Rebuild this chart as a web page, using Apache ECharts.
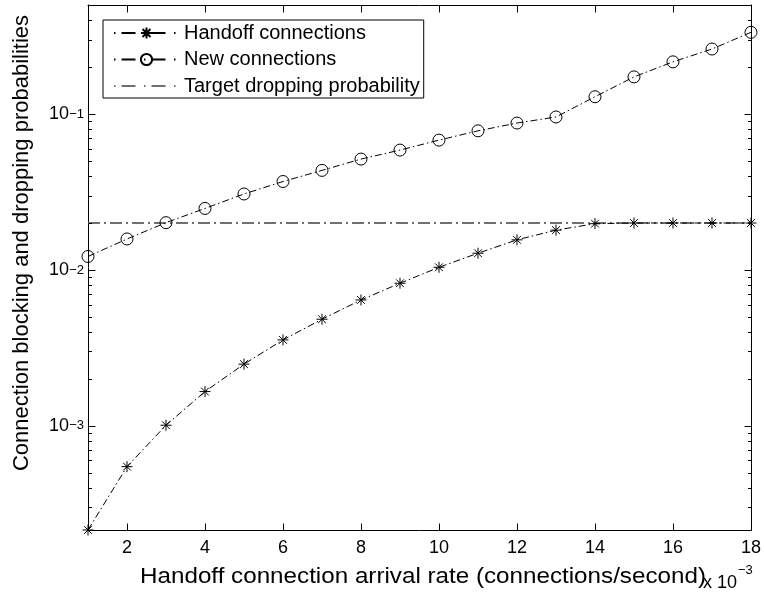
<!DOCTYPE html>
<html>
<head>
<meta charset="utf-8">
<script src="https://cdn.jsdelivr.net/npm/echarts@6/dist/echarts.min.js"></script>
<style>
  html, body { margin: 0; padding: 0; background: #fff; }
  #chart { width: 764px; height: 593px; }
</style>
</head>
<body>
<div id="chart"></div>
<script>
// Handoff connection arrival rate (x 10^-3 connections/second)
const arrivalRate = [1, 2, 3, 4, 5, 6, 7, 8, 9, 10, 11, 12, 13, 14, 15, 16, 17, 18];

// Handoff connection dropping probability
const handoffDropping = [2.15e-4, 5.48e-4, 1.01e-3, 1.66e-3, 2.49e-3, 3.56e-3, 4.83e-3, 6.42e-3, 8.22e-3,
  1.04e-2, 1.28e-2, 1.56e-2, 1.80e-2, 1.98e-2, 2.0e-2, 2.0e-2, 2.0e-2, 2.0e-2];

// New connection blocking probability
const newBlocking = [1.22e-2, 1.58e-2, 2.01e-2, 2.48e-2, 3.07e-2, 3.69e-2, 4.35e-2, 5.14e-2, 5.87e-2,
  6.8e-2, 7.8e-2, 8.75e-2, 9.57e-2, 0.129, 0.173, 0.216, 0.261, 0.334];

// Target handoff dropping probability
const targetDropping = 0.02;

// Axis ranges and tick positions
const xMin = 1, xMax = 18;
const xTicks = [2, 4, 6, 8, 10, 12, 14, 16, 18];
const yMin = 2.15e-4, yMax = 0.5;
const yMajorTicks = [1e-3, 1e-2, 1e-1];
const yMinorTicks = [3e-4, 4e-4, 5e-4, 6e-4, 7e-4, 8e-4, 9e-4,
  2e-3, 3e-3, 4e-3, 5e-3, 6e-3, 7e-3, 8e-3, 9e-3,
  2e-2, 3e-2, 4e-2, 5e-2, 6e-2, 7e-2, 8e-2, 9e-2,
  2e-1, 3e-1, 4e-1];

const FONT = 'Liberation Sans, Arial, Helvetica, sans-serif';
const BLACK = '#000';
const GREY = '#707070';
const MAJOR_LEN = 7, MINOR_LEN = 3.5;

const chart = echarts.init(document.getElementById('chart'), null, { renderer: 'canvas' });

const asteriskPath = 'path://M0,-10L0,10M-10,0L10,0M-7.07,-7.07L7.07,7.07M-7.07,7.07L7.07,-7.07';

const lg = Math.log10;

function plainAxis(type, position, extra) {
  return Object.assign({
    type: type, position: position,
    axisLine: { show: true, onZero: false, lineStyle: { color: BLACK, width: 1 } },
    axisTick: { show: false },
    minorTick: { show: false },
    axisLabel: { show: false },
    splitLine: { show: false }
  }, extra);
}

const titles = [
  {
    type: 'text', x: 423, y: 577, scaleX: 1.1,
    style: {
      text: 'Handoff connection arrival rate (connections/second)',
      font: '22px ' + FONT, fill: BLACK,
      textAlign: 'center', textVerticalAlign: 'middle'
    }
  },
  {
    type: 'text', rotation: Math.PI / 2, x: 22, y: 243,
    style: {
      text: 'Connection blocking and dropping probabilities',
      font: '22px ' + FONT, fill: BLACK,
      textAlign: 'center', textVerticalAlign: 'middle'
    }
  },
  {
    type: 'text', x: 703, y: 583,
    style: { text: 'x 10', font: '18px ' + FONT, fill: BLACK, textAlign: 'left', textVerticalAlign: 'middle' }
  },
  {
    type: 'text', x: 738, y: 570,
    style: { text: '\u22123', font: '13px ' + FONT, fill: BLACK, textAlign: 'left', textVerticalAlign: 'middle' }
  }
];

const option = {
  backgroundColor: '#fff',
  animation: false,
  grid: { left: 88, right: 11, top: 5, bottom: 63, containLabel: false },
  xAxis: [
    plainAxis('value', 'bottom', {
      min: xMin, max: xMax,
      axisLabel: { show: true, customValues: xTicks, color: BLACK, fontSize: 18, fontFamily: FONT, margin: 9 }
    }),
    plainAxis('value', 'top', { min: xMin, max: xMax })
  ],
  yAxis: [
    // data axis, also carrying the "10" of each decade label
    plainAxis('log', 'left', {
      logBase: 10, min: yMin, max: yMax,
      axisLabel: {
        show: true, customValues: yMajorTicks, formatter: () => '10',
        fontSize: 18, fontFamily: FONT, color: BLACK,
        lineHeight: 18, padding: [6, 0, 0, 0], margin: 19
      }
    }),
    // exponent of each decade label
    plainAxis('log', 'left', {
      logBase: 10, min: yMin, max: yMax,
      axisLine: { show: false },
      axisLabel: {
        show: true, customValues: yMajorTicks,
        formatter: v => { const e = Math.round(lg(v)); return e < 0 ? '\u2212' + (-e) : String(e); },
        fontSize: 13, fontFamily: FONT, color: BLACK,
        lineHeight: 13, padding: [0, 0, 16, 0], margin: 4
      }
    }),
    plainAxis('log', 'right', { logBase: 10, min: yMin, max: yMax })
  ],
  legend: {
    orient: 'vertical',
    left: 103,
    top: 20,
    padding: [3, 4, 2, 10],
    itemGap: 6.5,
    itemWidth: 65,
    itemHeight: 14,
    backgroundColor: '#fff',
    borderColor: BLACK,
    borderWidth: 1,
    borderRadius: 0,
    textStyle: { fontSize: 20, fontFamily: FONT, color: BLACK, lineHeight: 20 },
    lineStyle: { type: [1.5, 6, 14, 8.5] },
    data: [
      'Handoff connections',
      'New connections',
      { name: 'Target dropping probability', itemStyle: { color: 'rgba(0,0,0,0)', borderColor: 'rgba(0,0,0,0)', borderWidth: 0 } }
    ]
  },
  series: [
    {
      name: 'Handoff connections',
      type: 'line', xAxisIndex: 0, yAxisIndex: 0, clip: false,
      data: arrivalRate.map((x, i) => [x, handoffDropping[i]]),
      symbol: asteriskPath, symbolSize: 11,
      itemStyle: { color: 'rgba(0,0,0,0)', borderColor: BLACK, borderWidth: 1 },
      lineStyle: { color: BLACK, width: 1, type: [7, 3, 1.5, 3] },
      z: 3
    },
    {
      name: 'New connections',
      type: 'line', xAxisIndex: 0, yAxisIndex: 0, clip: false,
      data: arrivalRate.map((x, i) => [x, newBlocking[i]]),
      symbol: 'circle', symbolSize: 12,
      itemStyle: { color: 'rgba(255,255,255,0)', borderColor: BLACK, borderWidth: 1 },
      lineStyle: { color: BLACK, width: 1, type: [7, 3, 1.5, 3] },
      z: 3
    },
    {
      name: 'Target dropping probability',
      type: 'line', xAxisIndex: 0, yAxisIndex: 0,
      data: [[arrivalRate[0], targetDropping], [arrivalRate[arrivalRate.length - 1], targetDropping]],
      symbol: 'none',
      itemStyle: { color: GREY },
      lineStyle: { color: GREY, width: 2, type: [12, 4, 2, 4] },
      z: 2
    }
  ],
  graphic: titles
};

chart.setOption(option);

// Inward tick marks on all four sides of the box, placed through the chart's own axis scales
const tickSpecs = [];
yMajorTicks.forEach(v => { tickSpecs.push([xMin, v, 'L', MAJOR_LEN]); tickSpecs.push([xMax, v, 'R', MAJOR_LEN]); });
yMinorTicks.forEach(v => { tickSpecs.push([xMin, v, 'L', MINOR_LEN]); tickSpecs.push([xMax, v, 'R', MINOR_LEN]); });
xTicks.forEach(v => { tickSpecs.push([v, yMin, 'B', MAJOR_LEN]); tickSpecs.push([v, yMax, 'T', MAJOR_LEN]); });

const tickLines = tickSpecs.map(([x, y, side, len]) => {
  const p = chart.convertToPixel({ xAxisIndex: 0, yAxisIndex: 0 }, [x, y]);
  const px = Math.round(p[0]) + 0.5;
  const py = Math.round(p[1]) + 0.5;
  let shape;
  if (side === 'L') shape = { x1: px, y1: py, x2: px + len, y2: py };
  else if (side === 'R') shape = { x1: px, y1: py, x2: px - len, y2: py };
  else if (side === 'B') shape = { x1: px, y1: py, x2: px, y2: py - len };
  else shape = { x1: px, y1: py, x2: px, y2: py + len };
  return { type: 'line', silent: true, z: 50, shape: shape, style: { stroke: BLACK, lineWidth: 1 } };
});

chart.setOption({ graphic: titles.concat(tickLines) });
</script>
</body>
</html>
